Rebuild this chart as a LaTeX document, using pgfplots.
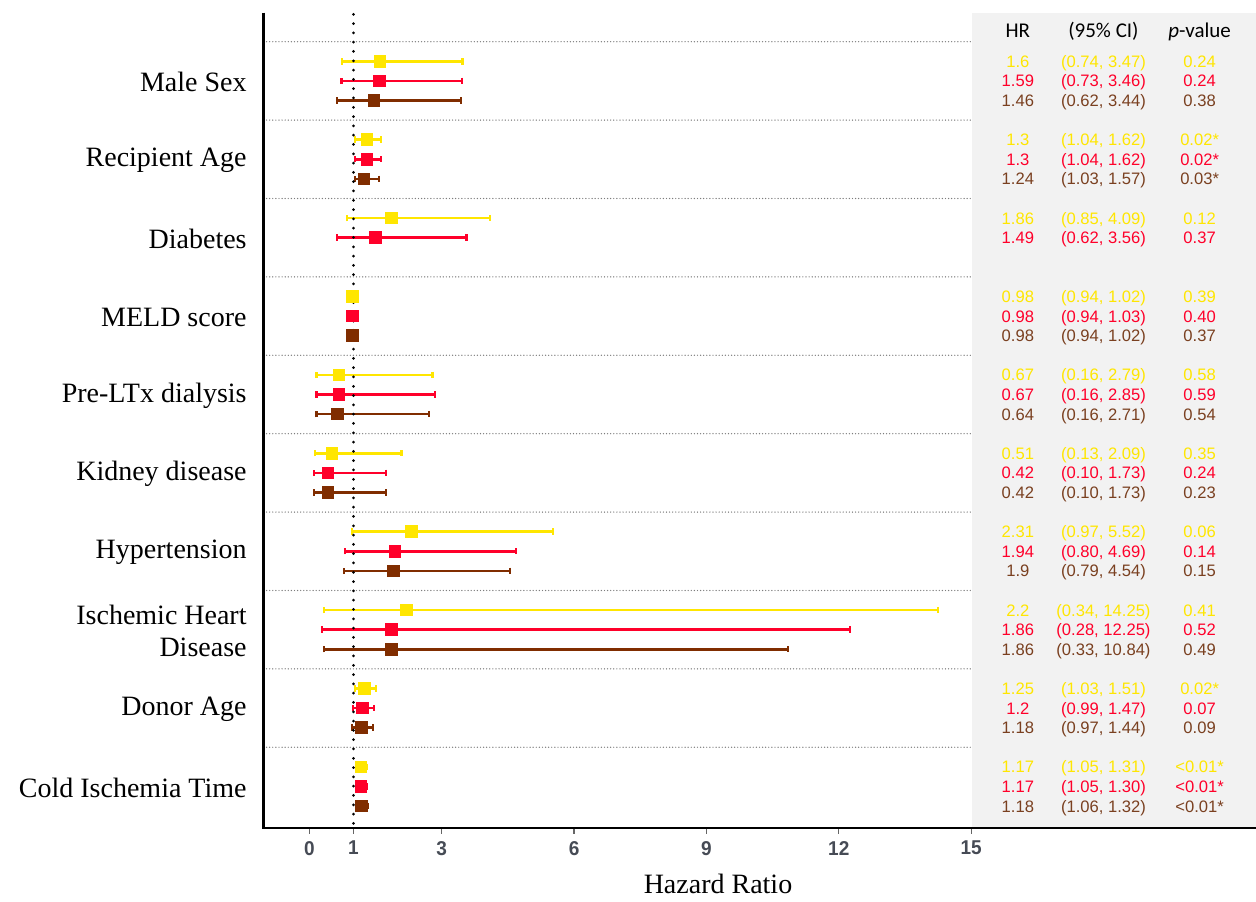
\documentclass[border=0pt]{standalone}
\usepackage{pgfplots}
\pgfplotsset{compat=1.18}
\usepackage{pgfplotstable}
\usepackage{fontspec}
\setmainfont{Liberation Serif}
\newfontfamily\tblfont{Liberation Sans}
\newfontfamily\hdrfont{Carlito}
\newfontfamily\tickfont[FakeStretch=0.95]{Liberation Sans}
\definecolor{cY}{RGB}{255,230,0}
\definecolor{cR}{RGB}{255,0,42}
\definecolor{cB}{RGB}{128,45,0}
\definecolor{cBt}{RGB}{122,64,32}
\definecolor{panel}{RGB}{242,242,242}
\definecolor{sepc}{RGB}{125,125,125}
\definecolor{tickc}{RGB}{70,75,85}

% yellow series
\pgfplotstableread{
y hr lo hi
-1 1.6 0.74 3.47
-5 1.3 1.04 1.62
-9 1.86 0.85 4.09
-13 0.98 0.94 1.02
-17 0.67 0.16 2.79
-21 0.51 0.13 2.09
-25 2.31 0.97 5.52
-29 2.2 0.34 14.25
-33 1.25 1.03 1.51
-37 1.17 1.05 1.31
}\dY
% red series
\pgfplotstableread{
y hr lo hi
-2 1.59 0.73 3.46
-6 1.3 1.04 1.62
-10 1.49 0.62 3.56
-14 0.98 0.94 1.03
-18 0.67 0.16 2.85
-22 0.42 0.10 1.73
-26 1.94 0.80 4.69
-30 1.86 0.28 12.25
-34 1.2 0.99 1.47
-38 1.17 1.05 1.30
}\dR
% brown series
\pgfplotstableread{
y hr lo hi
-3 1.46 0.62 3.44
-7 1.24 1.03 1.57
-15 0.98 0.94 1.02
-19 0.64 0.16 2.71
-23 0.42 0.10 1.73
-27 1.9 0.79 4.54
-31 1.86 0.33 10.84
-35 1.18 0.97 1.44
-39 1.18 1.06 1.32
}\dB

\newcommand\trow[5]{%
  \node[tbl,text=#2] at (axis cs:16.06,#1) {#3};
  \node[tbl,text=#2] at (axis cs:18.0,#1) {#4};
  \node[tbl,text=#2] at (axis cs:20.18,#1) {#5};}

\begin{document}
\begin{tikzpicture}[
  tbl/.style={font=\tblfont\fontsize{8.3bp}{10bp}\selectfont, anchor=base, inner sep=0pt, yshift=-3bp},
  hdr/.style={font=\hdrfont\fontsize{10.5bp}{12bp}\selectfont, anchor=base, inner sep=0pt, yshift=-3.4bp},
]
\useasboundingbox (0,0) rectangle (628bp,451bp);
\fill[panel] (486bp,37bp) rectangle (628bp,444.65bp);
\begin{axis}[
  at={(131.75bp,37bp)}, anchor=south west,
  scale only axis, width=354.25bp, height=407.65bp,
  xmin=-1.04, xmax=15.02, ymin=-40.12, ymax=1.48,
  clip=false,
  axis line style={draw=none},
  xtick={0,1,3,6,9,12,15}, xticklabels={0,1,3,6,9,12,15},
  xtick pos=bottom, xtick align=outside, major tick length=3bp,
  xtick style={black!60, line width=0.6bp},
  xticklabel style={font=\tickfont\bfseries\fontsize{10bp}{11bp}\selectfont, text=tickc},
  ytick={-2,-6,...,-38},
  yticklabels={Male Sex, Recipient Age, Diabetes, MELD score, Pre-LTx dialysis, Kidney disease, Hypertension, {Ischemic Heart\\Disease}, Donor Age, Cold Ischemia Time},
  ytick style={draw=none},
  yticklabel style={font=\fontsize{14bp}{16bp}\selectfont, align=right, inner sep=0pt, xshift=-8.25bp, yshift=-0.6bp},
  fp/.style={only marks, mark=square*, mark size=2.9bp, color=#1,
    error bars/.cd, x dir=both, x explicit, error mark=-,
    error bar style={line width=1.3bp, color=#1},
    error mark options={rotate=90, line width=1.1bp, mark size=1.6bp, color=#1}},
]
\pgfplotsinvokeforeach{0,-4,...,-36}{
  \draw[sepc, line width=0.7bp, dash pattern=on 0bp off 1.55bp, line cap=round] (axis cs:-0.97,#1) -- (axis cs:15,#1);
}
\addplot[fp=cY] table[x=hr, y=y, x error plus expr=\thisrow{hi}-\thisrow{hr}, x error minus expr=\thisrow{hr}-\thisrow{lo}] {\dY};
\addplot[fp=cR] table[x=hr, y=y, x error plus expr=\thisrow{hi}-\thisrow{hr}, x error minus expr=\thisrow{hr}-\thisrow{lo}] {\dR};
\addplot[fp=cB] table[x=hr, y=y, x error plus expr=\thisrow{hi}-\thisrow{hr}, x error minus expr=\thisrow{hr}-\thisrow{lo}] {\dB};
\draw[black, line width=1.5bp, dash pattern=on 0bp off 4.65bp, line cap=round] (axis cs:1,1.4) -- (axis cs:1,-40.0);

\node[hdr] at (axis cs:16.06,0.56) {HR};
\node[hdr] at (axis cs:18.0,0.56) {(95\% CI)};
\node[hdr] at (axis cs:20.18,0.56) {\textit{p}-value};

\trow{-1}{cY}{1.6}{(0.74, 3.47)}{0.24}
\trow{-2}{cR}{1.59}{(0.73, 3.46)}{0.24}
\trow{-3}{cBt}{1.46}{(0.62, 3.44)}{0.38}
\trow{-5}{cY}{1.3}{(1.04, 1.62)}{0.02*}
\trow{-6}{cR}{1.3}{(1.04, 1.62)}{0.02*}
\trow{-7}{cBt}{1.24}{(1.03, 1.57)}{0.03*}
\trow{-9}{cY}{1.86}{(0.85, 4.09)}{0.12}
\trow{-10}{cR}{1.49}{(0.62, 3.56)}{0.37}
\trow{-13}{cY}{0.98}{(0.94, 1.02)}{0.39}
\trow{-14}{cR}{0.98}{(0.94, 1.03)}{0.40}
\trow{-15}{cBt}{0.98}{(0.94, 1.02)}{0.37}
\trow{-17}{cY}{0.67}{(0.16, 2.79)}{0.58}
\trow{-18}{cR}{0.67}{(0.16, 2.85)}{0.59}
\trow{-19}{cBt}{0.64}{(0.16, 2.71)}{0.54}
\trow{-21}{cY}{0.51}{(0.13, 2.09)}{0.35}
\trow{-22}{cR}{0.42}{(0.10, 1.73)}{0.24}
\trow{-23}{cBt}{0.42}{(0.10, 1.73)}{0.23}
\trow{-25}{cY}{2.31}{(0.97, 5.52)}{0.06}
\trow{-26}{cR}{1.94}{(0.80, 4.69)}{0.14}
\trow{-27}{cBt}{1.9}{(0.79, 4.54)}{0.15}
\trow{-29}{cY}{2.2}{(0.34, 14.25)}{0.41}
\trow{-30}{cR}{1.86}{(0.28, 12.25)}{0.52}
\trow{-31}{cBt}{1.86}{(0.33, 10.84)}{0.49}
\trow{-33}{cY}{1.25}{(1.03, 1.51)}{0.02*}
\trow{-34}{cR}{1.2}{(0.99, 1.47)}{0.07}
\trow{-35}{cBt}{1.18}{(0.97, 1.44)}{0.09}
\trow{-37}{cY}{1.17}{(1.05, 1.31)}{<0.01*}
\trow{-38}{cR}{1.17}{(1.05, 1.30)}{<0.01*}
\trow{-39}{cBt}{1.18}{(1.06, 1.32)}{<0.01*}
\end{axis}
\draw[black, line width=1.25bp] (131.75bp,444.65bp) -- (131.75bp,37bp) -- (628bp,37bp);
\node[font=\fontsize{14bp}{16bp}\selectfont] at (359bp,9bp) {Hazard Ratio};
\end{tikzpicture}
\end{document}
